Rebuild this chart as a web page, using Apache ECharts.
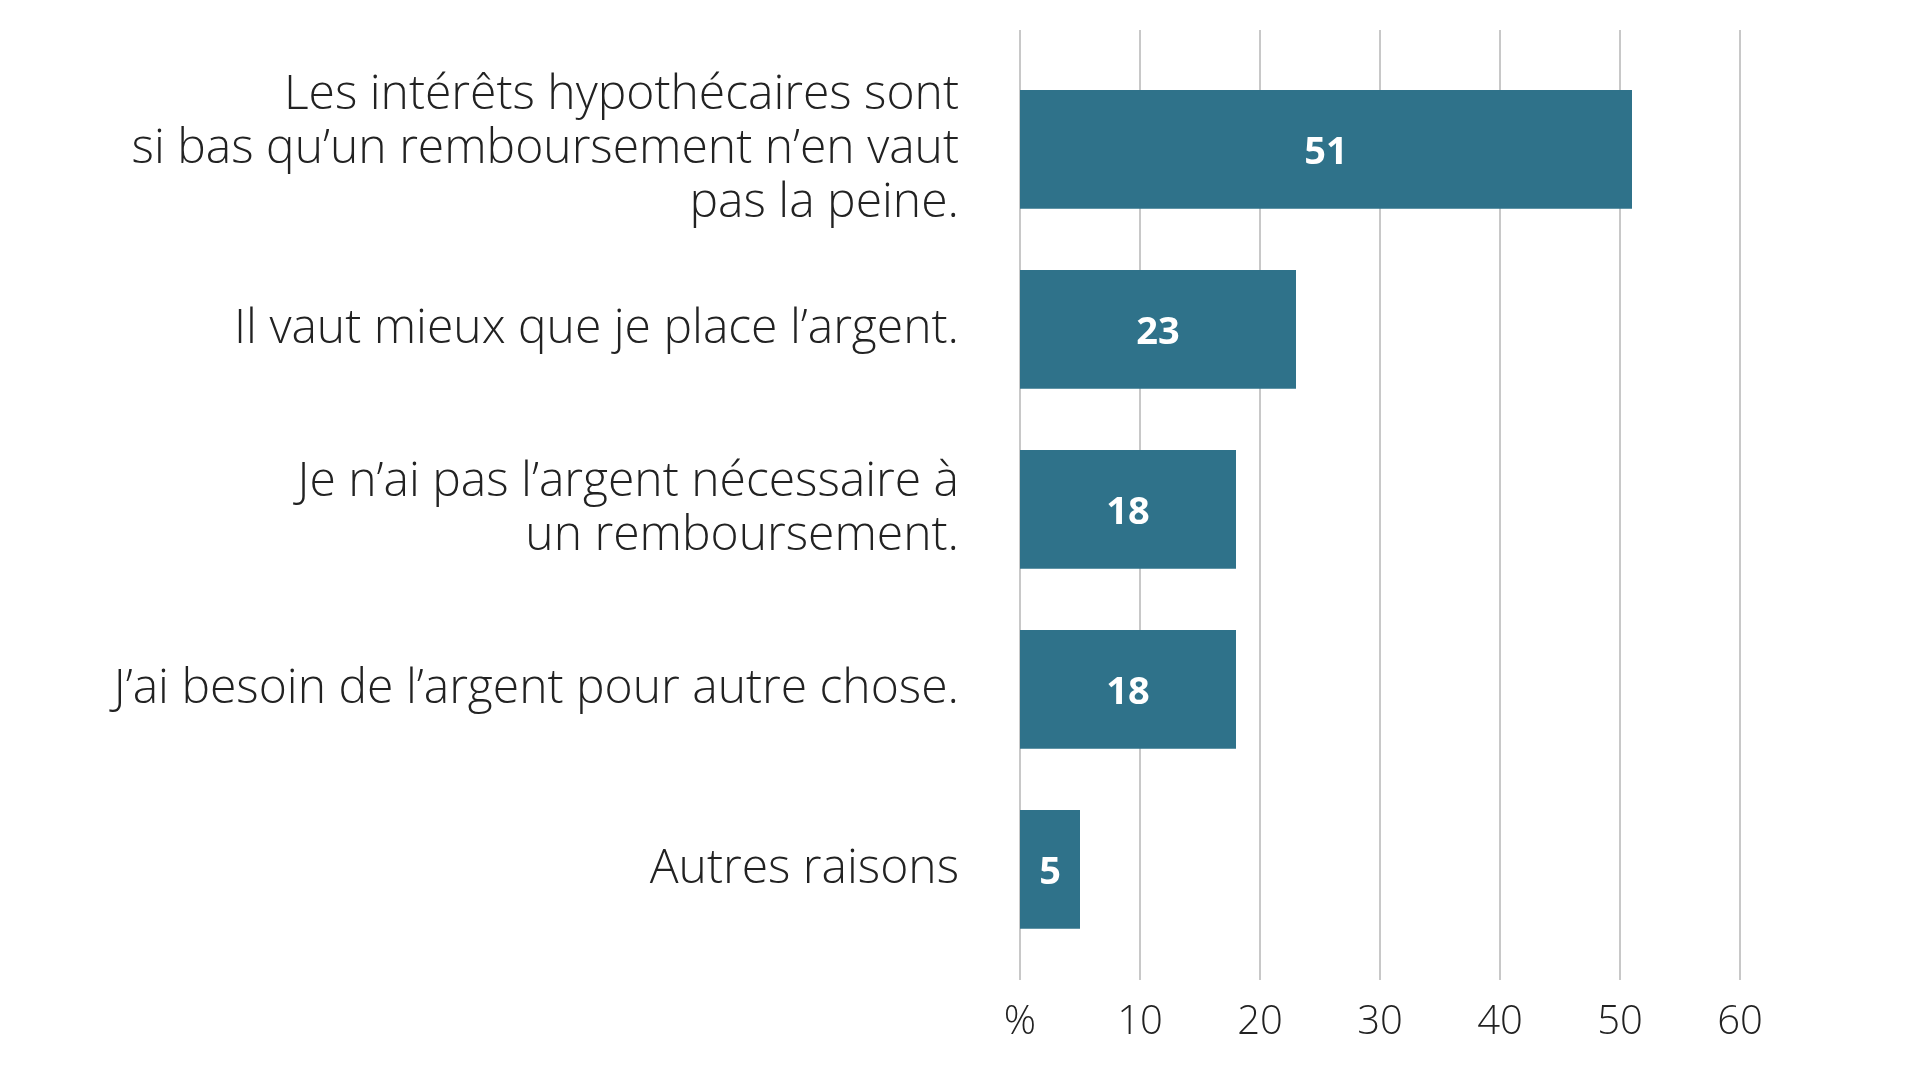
<!DOCTYPE html>
<html><head><meta charset="utf-8">
<script src="https://cdn.jsdelivr.net/npm/echarts@6/dist/echarts.min.js"></script>
<style>html,body{margin:0;padding:0;background:#fff}#c{width:1920px;height:1080px}</style>
</head><body><div id="c"></div>
<script>
const categories = [
  "Les intérêts hypothécaires sont\nsi bas qu’un remboursement n’en vaut\npas la peine.",
  "Il vaut mieux que je place l’argent.",
  "Je n’ai pas l’argent nécessaire à\nun remboursement.",
  "J’ai besoin de l’argent pour autre chose.",
  "Autres raisons"
];
const values = [51, 23, 18, 18, 5];
const tickLabels = {0: "%", 10: "10", 20: "20", 30: "30", 40: "40", 50: "50", 60: "60"};

const FONT = "'Open Sans', sans-serif";
const chart = echarts.init(document.getElementById('c'));
chart.setOption({
  animation: false,
  grid: [
    {left: 1020, right: 180, top: 59.4, height: 900, containLabel: false},
    {left: 1020, right: 180, top: 30, bottom: 100, containLabel: false}
  ],
  xAxis: [
    {gridIndex: 0, type: 'value', min: 0, max: 60, interval: 10,
     axisLine: {show: false}, axisTick: {show: false}, axisLabel: {show: false}, splitLine: {show: false}},
    {gridIndex: 1, type: 'value', min: 0, max: 60, interval: 10,
     axisLine: {show: false}, axisTick: {show: false},
     splitLine: {show: true, lineStyle: {color: '#c8c8c8', width: 2}},
     axisLabel: {show: true, margin: 23, color: '#222', fontFamily: FONT, fontWeight: 300, fontSize: 40,
       formatter: v => tickLabels[v] !== undefined ? tickLabels[v] : ''}}
  ],
  yAxis: [
    {gridIndex: 0, type: 'category', data: categories, inverse: true,
     axisLine: {show: false}, axisTick: {show: false}, splitLine: {show: false},
     axisLabel: {margin: 61, color: '#222', fontFamily: FONT, fontWeight: 300, fontSize: 48, lineHeight: 54, align: 'right',
       padding: [12, 0, 0, 0]}},
    {gridIndex: 1, type: 'category', data: categories, show: false}
  ],
  series: [{
    type: 'bar', xAxisIndex: 0, yAxisIndex: 0, data: values,
    barCategoryGap: '34%',
    itemStyle: {color: '#2f728a'},
    label: {show: true, position: 'inside', offset: [0, 4], color: '#fff', fontFamily: FONT, fontWeight: 'bold', fontSize: 38}
  }]
});
</script></body></html>
